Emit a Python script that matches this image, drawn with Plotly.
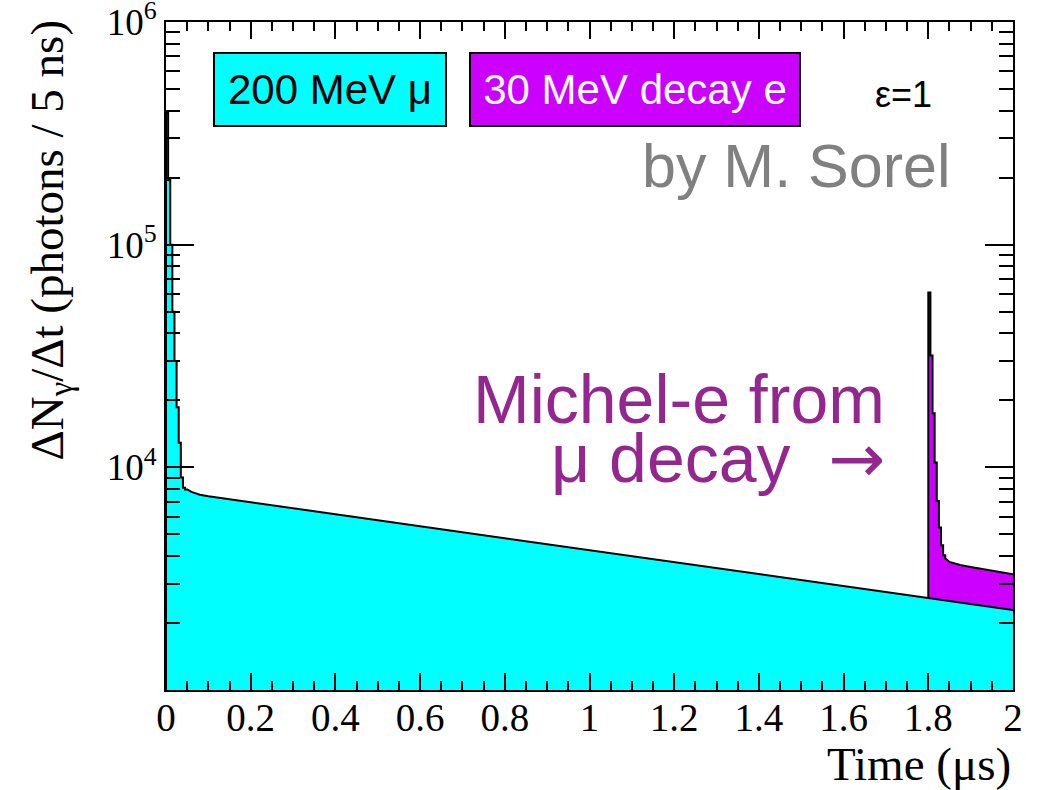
import plotly.graph_objects as go

# ---------------- data ----------------
BIN_W = 0.005  # µs (5 ns bins)

# 200 MeV muon: prompt peak, individual 5 ns bins (low edges, µs) and counts
mu_step_t = [0.000, 0.005, 0.010, 0.015, 0.020, 0.025, 0.030, 0.035, 0.040, 0.045]
mu_step_n = [390000, 195000, 100000, 50000, 30000, 18600, 12900, 9000, 8100, 7960]

# 200 MeV muon: slow component (µs, photons / 5 ns)
mu_tail_t = [0.05, 0.06, 0.08, 0.10, 0.15, 0.20, 0.30, 0.40, 0.50, 0.60, 0.70,
             0.80, 0.90, 1.00, 1.10, 1.20, 1.30, 1.40, 1.50, 1.60, 1.70, 1.80,
             1.90, 2.00]
mu_tail_n = [7960, 7760, 7530, 7410, 7190, 6970, 6550, 6160, 5790, 5440, 5110,
             4810, 4520, 4250, 3990, 3750, 3525, 3310, 3115, 2930, 2750, 2590,
             2430, 2285]

# 30 MeV decay electron (stacked on top of muon): prompt bins and tail
e_step_t = [1.800, 1.805, 1.810, 1.815, 1.820, 1.825, 1.830, 1.835]
e_step_n = [61000, 31800, 17500, 10500, 7060, 5370, 4470, 4030]
e_tail_t = [1.84, 1.85, 1.875, 1.90, 1.95, 2.00]
e_tail_n = [3900, 3760, 3640, 3565, 3440, 3310]

x_tick_vals = [0, 0.2, 0.4, 0.6, 0.8, 1.0, 1.2, 1.4, 1.6, 1.8, 2.0]
x_tick_text = ["0", "0.2", "0.4", "0.6", "0.8", "1", "1.2", "1.4", "1.6", "1.8", "2"]
y_tick_vals = [1e4, 1e5, 1e6]
y_tick_text = ["10<sup>4</sup>", "10<sup>5</sup>", "10<sup>6</sup>"]
y_minor_vals = [m * 10 ** d for d in (3, 4, 5) for m in range(2, 10)]

CYAN = "#00FFFF"
MAGENTA = "#CC00FF"
MICHEL = "#93278F"
FLOOR = 1.0  # far below the visible range, fill baseline


def steps(lo, vals, w):
    xs, ys = [], []
    for t, v in zip(lo, vals):
        xs += [t, t + w]
        ys += [v, v]
    return xs, ys


mx, my = steps(mu_step_t, mu_step_n, BIN_W)
mu_x = mx + mu_tail_t
mu_y = my + mu_tail_n

ex, ey = steps(e_step_t, e_step_n, BIN_W)
e_x = ex + e_tail_t
e_y = ey + e_tail_n

# muon curve under the electron region
under = [(t, n) for t, n in zip(mu_tail_t, mu_tail_n) if t >= e_step_t[0]]
under_x = [t for t, _ in under]
under_y = [n for _, n in under]

fig = go.Figure()

# cyan fill
fig.add_trace(go.Scatter(
    x=[mu_x[0]] + mu_x + [mu_x[-1]],
    y=[FLOOR] + mu_y + [FLOOR],
    fill="toself", fillcolor=CYAN, mode="lines",
    line=dict(width=0, color=CYAN), hoverinfo="skip", showlegend=False))

# magenta fill (between electron top and muon curve)
fig.add_trace(go.Scatter(
    x=e_x + under_x[::-1],
    y=e_y + under_y[::-1],
    fill="toself", fillcolor=MAGENTA, mode="lines",
    line=dict(width=0, color=MAGENTA), hoverinfo="skip", showlegend=False))

# outlines
fig.add_trace(go.Scatter(
    x=[mu_x[0]] + mu_x, y=[FLOOR] + mu_y, mode="lines",
    line=dict(color="black", width=2), hoverinfo="skip", showlegend=False))
fig.add_trace(go.Scatter(
    x=[under_x[0]] + e_x, y=[under_y[0]] + e_y, mode="lines",
    line=dict(color="black", width=2), hoverinfo="skip", showlegend=False))

serif = "Liberation Serif, Times New Roman, serif"
sans = "Liberation Sans, Arial, Helvetica, sans-serif"

fig.update_layout(
    width=1044, height=790,
    margin=dict(l=166, r=31, t=22, b=100, autoexpand=False),
    paper_bgcolor="white", plot_bgcolor="white",
    xaxis=dict(
        range=[0, 2], showgrid=False, zeroline=False, automargin=False,
        showline=True, linecolor="black", linewidth=2, mirror="ticks",
        ticks="inside", ticklen=17, tickwidth=2, tickcolor="black",
        tickmode="array", tickvals=x_tick_vals, ticktext=x_tick_text,
        tickfont=dict(family=serif, size=39, color="black"),
        ticklabelstandoff=-8, ticklabeloverflow="allow",
        minor=dict(ticks="inside", ticklen=9, tickwidth=2, tickcolor="black",
                   dtick=0.05, showgrid=False),
    ),
    yaxis=dict(
        type="log", range=[3, 6], showgrid=False, zeroline=False, automargin=False,
        showline=True, linecolor="black", linewidth=2, mirror="ticks",
        ticks="inside", ticklen=28, tickwidth=2, tickcolor="black",
        tickmode="array", tickvals=y_tick_vals, ticktext=y_tick_text,
        tickfont=dict(family=serif, size=37, color="black"),
        ticklabeloverflow="allow",
        minor=dict(ticks="inside", ticklen=14, tickwidth=2, tickcolor="black",
                   tickmode="array", tickvals=y_minor_vals, showgrid=False),
    ),
)

ann = []
# legend boxes
ann.append(dict(text="200 MeV μ", xref="paper", yref="paper",
                x=(330 - 166) / 847, y=1 - (89.5 - 22) / 668,
                xanchor="center", yanchor="middle", showarrow=False,
                width=230, height=71, bgcolor=CYAN, bordercolor="black",
                borderwidth=2, borderpad=0,
                font=dict(family=sans, size=42, color="black")))
ann.append(dict(text="30 MeV decay e", xref="paper", yref="paper",
                x=(635 - 166) / 847, y=1 - (89.5 - 22) / 668,
                xanchor="center", yanchor="middle", showarrow=False,
                width=328, height=71, bgcolor=MAGENTA, bordercolor="black",
                borderwidth=2, borderpad=0,
                font=dict(family=sans, size=42, color="white")))
ann.append(dict(text="ε=1", xref="paper", yref="paper",
                x=(903 - 166) / 847, y=1 - (95 - 22) / 668,
                xanchor="center", yanchor="middle", showarrow=False,
                font=dict(family=sans, size=36, color="black")))
ann.append(dict(text="by M. Sorel", xref="paper", yref="paper",
                x=(953 - 166) / 847, y=1 - (166 - 22) / 668,
                xanchor="right", yanchor="middle", showarrow=False,
                font=dict(family=sans, size=61, color="#808080")))
ann.append(dict(text="Michel-e from", xref="paper", yref="paper",
                x=(887 - 166) / 847, y=1 - (399 - 22) / 668,
                xanchor="right", yanchor="middle", showarrow=False,
                font=dict(family=sans, size=68, color=MICHEL)))
ann.append(dict(text="μ decay  <span style=\"font-family:DejaVu Sans\">→</span>",
                xref="paper", yref="paper",
                x=(887 - 166) / 847, y=1 - (458 - 22) / 668,
                xanchor="right", yanchor="middle", showarrow=False,
                font=dict(family=sans, size=68, color=MICHEL)))
# axis titles
ann.append(dict(text="Time (μs)", xref="paper", yref="paper",
                x=1.0, y=1 - (764 - 22) / 668,
                xanchor="right", yanchor="middle", showarrow=False,
                font=dict(family=serif, size=47, color="black")))
ann.append(dict(text="ΔN<sub>γ</sub>/Δt (photons / 5 ns)", xref="paper", yref="paper",
                x=(50 - 166) / 847, y=1 - (18 - 22) / 668, textangle=-90,
                xanchor="center", yanchor="top", showarrow=False,
                font=dict(family=serif, size=47, color="black")))
fig.update_layout(annotations=ann)

fig.write_html("out.html")
